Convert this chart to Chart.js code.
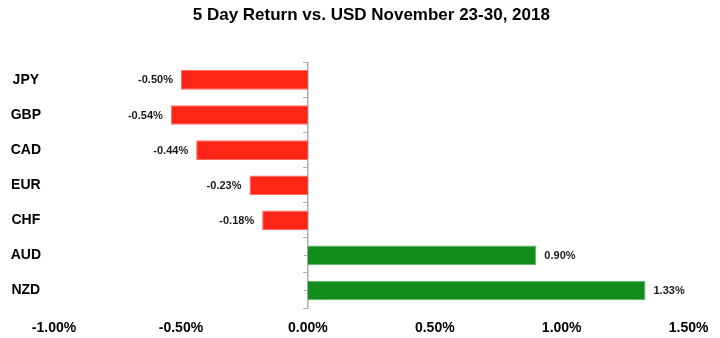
<!DOCTYPE html>
<html>
<head>
<meta charset="utf-8">
<script src="https://cdn.jsdelivr.net/npm/chart.js@4"></script>
<style>
  html, body { margin: 0; padding: 0; background: #fff; }
  #wrap { width: 720px; height: 338px; }
</style>
</head>
<body>
<div id="wrap"><canvas id="c" width="720" height="338"></canvas></div>
<script>
const titleText = '5 Day Return vs. USD November 23-30, 2018';
const categories = ['JPY', 'GBP', 'CAD', 'EUR', 'CHF', 'AUD', 'NZD'];
const returns = [-0.50, -0.54, -0.44, -0.23, -0.18, 0.90, 1.33];
const xMin = -1.0;
const xMax = 1.5;
const xStep = 0.5;

const RED = '#FF2516';
const RED_EDGE = '#FF6A5E';
const GREEN = '#128C1A';
const GREEN_EDGE = '#5DB862';
const AXIS_GRAY = '#ABABAB';
const FONT = "'Liberation Sans', Arial, sans-serif";

const valueLabels = {
  id: 'valueLabels',
  afterDatasetsDraw(chart) {
    const ctx = chart.ctx;
    const meta = chart.getDatasetMeta(0);
    ctx.save();
    ctx.font = "bold 11px " + FONT;
    ctx.fillStyle = '#1a1a1a';
    ctx.textBaseline = 'middle';
    meta.data.forEach((bar, i) => {
      const v = chart.data.datasets[0].data[i];
      const txt = v.toFixed(2) + '%';
      if (v < 0) {
        ctx.textAlign = 'right';
        ctx.fillText(txt, bar.x - 8, bar.y + 0.5);
      } else {
        ctx.textAlign = 'left';
        ctx.fillText(txt, bar.x + 8, bar.y + 0.5);
      }
    });
    ctx.restore();
  }
};

new Chart(document.getElementById('c'), {
  type: 'bar',
  data: {
    labels: categories,
    datasets: [{
      data: returns,
      yAxisID: 'y',
      xAxisID: 'x',
      backgroundColor: c => (c.raw < 0 ? RED : GREEN),
      borderColor: c => (c.raw < 0 ? RED_EDGE : GREEN_EDGE),
      borderWidth: 1,
      barPercentage: 0.56,
      categoryPercentage: 1.0
    }]
  },
  options: {
    indexAxis: 'y',
    responsive: false,
    animation: false,
    layout: { padding: { left: 0, right: 31, top: 0, bottom: 2 } },
    plugins: {
      legend: { display: false },
      tooltip: { enabled: false },
      title: {
        display: true,
        text: titleText,
        fullSize: false,
        color: '#000',
        font: { family: FONT, size: 17, weight: 'bold' },
        padding: { top: 5, bottom: 37 }
      }
    },
    scales: {
      x: {
        type: 'linear',
        min: xMin,
        max: xMax,
        grid: { display: false, drawTicks: false },
        border: { display: false },
        afterFit: s => { s.height = 28; },
        ticks: {
          stepSize: xStep,
          padding: 11.5,
          color: '#000',
          font: { family: FONT, size: 14, weight: 'bold' },
          callback: v => Number(v).toFixed(2) + '%'
        }
      },
      y: {
        type: 'category',
        position: 'left',
        offset: true,
        grid: { display: false, drawTicks: true, tickLength: 13 },
        border: { display: false },
        afterFit: s => { s.width = 54; },
        ticks: {
          crossAlign: 'center',
          padding: 0,
          color: '#000',
          font: { family: FONT, size: 14, weight: 'bold' }
        }
      },
      y2: {
        type: 'category',
        axis: 'y',
        position: { x: 0 },
        offset: true,
        grid: { display: true, offset: true, drawOnChartArea: false, drawTicks: true, tickLength: 4, color: AXIS_GRAY, lineWidth: 1 },
        border: { display: true, color: AXIS_GRAY, width: 1.5 },
        ticks: { display: false }
      },
      y3: {
        type: 'category',
        axis: 'y',
        position: { x: 0 },
        offset: true,
        grid: { display: true, offset: false, drawOnChartArea: false, drawTicks: true, tickLength: 4, color: AXIS_GRAY, lineWidth: 1 },
        border: { display: false },
        ticks: { display: false }
      }
    }
  },
  plugins: [valueLabels]
});
</script>
</body>
</html>
